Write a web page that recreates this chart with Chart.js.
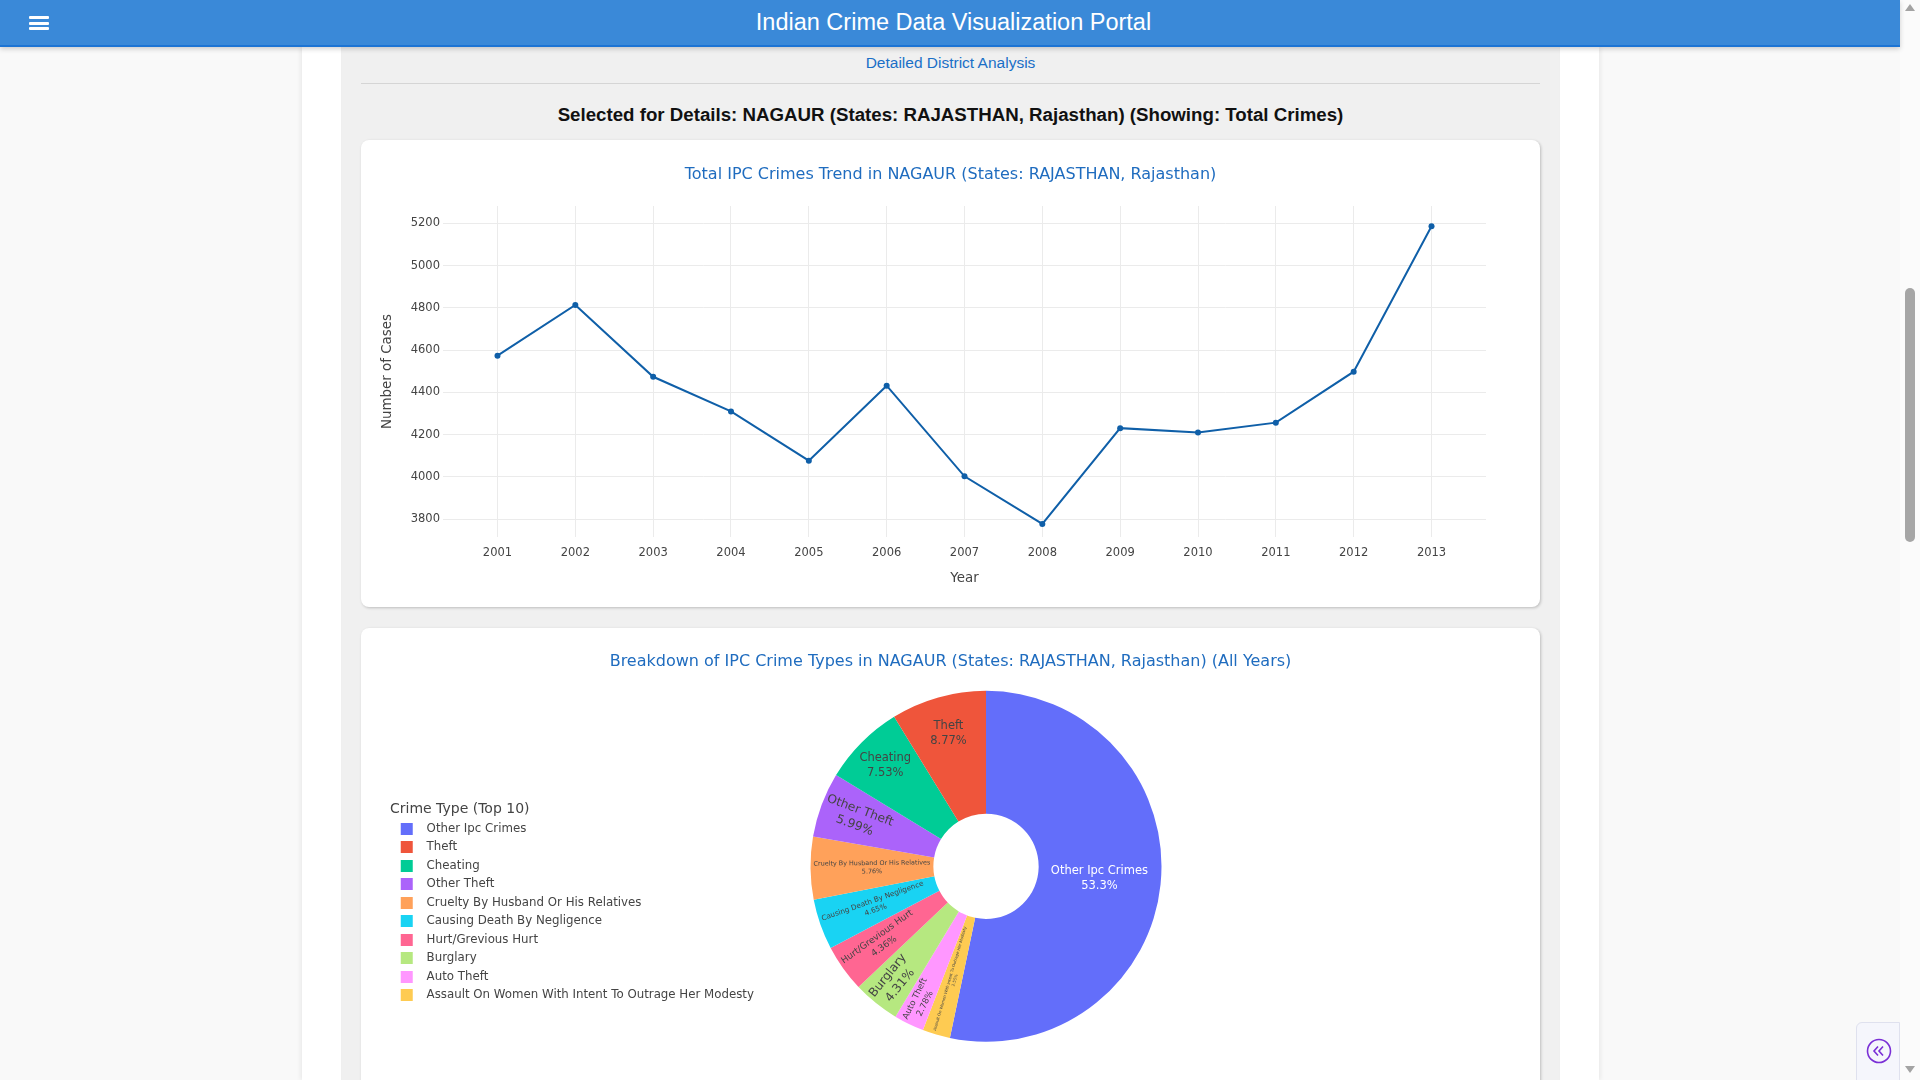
<!DOCTYPE html>
<html lang="en">
<head>
<meta charset="utf-8">
<title>Indian Crime Data Visualization Portal</title>
<script src="https://cdn.jsdelivr.net/npm/chart.js@4.4.1/dist/chart.umd.min.js"></script>
<style>
  html, body { margin: 0; padding: 0; }
  body {
    width: 1920px; height: 1080px; overflow: hidden; position: relative;
    background: #f9f9f9; font-family: 'Liberation Sans', Arial, sans-serif;
  }
  .topbar {
    position: absolute; left: 0; top: 0; width: 1900px; height: 45px;
    background: #3a89d8; border-bottom: 2px solid #1c74d4;
    box-shadow: 0 2px 5px rgba(0,0,0,.18); z-index: 5;
  }
  .topbar h1 {
    margin: 0; font-weight: normal; font-size: 23.5px; line-height: 45px;
    color: #fff; text-align: center; padding-left: 7px;
  }
  .burger { position: absolute; left: 29px; top: 16px; width: 20px; }
  .burger span { display: block; height: 3px; background: #fff; border-radius: 1px; margin-bottom: 2.5px; }
  .gutter { position: absolute; top: 47px; height: 1033px; width: 39px; background: #fff; }
  .gutter.l { left: 302px; box-shadow: -2px 0 4px rgba(0,0,0,.06); }
  .gutter.r { left: 1560px; box-shadow: 2px 0 4px rgba(0,0,0,.06); }
  .main { position: absolute; left: 341px; top: 47px; width: 1219px; height: 1033px; background: #f0f0f0; }
  .sublink {
    position: absolute; left: 341px; width: 1219px; top: 52px; line-height: 21px;
    text-align: center; font-size: 15.5px; color: #1a6fc7;
  }
  .rule { position: absolute; left: 361px; top: 83px; width: 1179px; height: 1px; background: #d5d5d5; }
  .selected {
    position: absolute; left: 341px; width: 1219px; top: 103px; line-height: 24px;
    text-align: center; font-size: 18.7px; font-weight: bold; color: #111;
  }
  .card {
    position: absolute; left: 361px; width: 1179px; background: #fff;
    border-radius: 8px; box-shadow: 1px 1px 3px rgba(0,0,0,.22);
  }
  .card canvas { position: absolute; left: 0; top: 0; }
  .sb { position: absolute; left: 1900px; top: 0; width: 20px; height: 1080px; background: #fbfbfb; }
  .sb .thumb { position: absolute; left: 5px; top: 288px; width: 10px; height: 254px; background: #a6a6a6; border-radius: 5px; }
  .sb .up, .sb .down { position: absolute; left: 5px; width: 0; height: 0; border-left: 5px solid transparent; border-right: 5px solid transparent; }
  .sb .up { top: 4px; border-bottom: 7px solid #a3a3a3; }
  .sb .down { top: 1066px; border-top: 7px solid #a3a3a3; }
  .collapse {
    position: absolute; left: 1856px; top: 1022px; width: 44px; height: 70px;
    background: #f5f6fc; border: 1px solid #dfe1ee; border-radius: 6px 0 0 0; box-sizing: border-box;
  }
  .collapse svg { position: absolute; left: 9px; top: 15px; }
</style>
</head>
<body>
<div class="main"></div>
<div class="gutter l"></div>
<div class="gutter r"></div>

<div class="topbar">
  <div class="burger"><span></span><span></span><span></span></div>
  <h1>Indian Crime Data Visualization Portal</h1>
</div>

<div class="sublink">Detailed District Analysis</div>
<div class="rule"></div>
<div class="selected">Selected for Details: NAGAUR (States: RAJASTHAN, Rajasthan) (Showing: Total Crimes)</div>

<div class="card" style="top:140px;height:467px;">
  <canvas id="trendChart" width="1179" height="467"></canvas>
</div>
<div class="card" style="top:628px;height:480px;">
  <canvas id="breakdownChart" width="1179" height="470"></canvas>
</div>

<div class="sb"><div class="up"></div><div class="thumb"></div><div class="down"></div></div>
<div class="collapse">
  <svg width="26" height="26" viewBox="0 0 26 26">
    <circle cx="13" cy="13" r="11.5" fill="none" stroke="#7a2fd6" stroke-width="1.6"/>
    <path d="M12 8.5 L8 13 L12 17.5 M17 8.5 L13 13 L17 17.5" fill="none" stroke="#7a2fd6" stroke-width="1.6"/>
  </svg>
</div>

<script>
// ---- data ----
const years = [2001, 2002, 2003, 2004, 2005, 2006, 2007, 2008, 2009, 2010, 2011, 2012, 2013];
const totalCrimes = [4574, 4814, 4474, 4310, 4077, 4432, 4003, 3778, 4231, 4210, 4257, 4498, 5186];
const yTickValues = [3800, 4000, 4200, 4400, 4600, 4800, 5000, 5200];

const crimeTypes = [
    'Other Ipc Crimes', 'Theft', 'Cheating', 'Other Theft',
    'Cruelty By Husband Or His Relatives', 'Causing Death By Negligence',
    'Hurt/Grevious Hurt', 'Burglary', 'Auto Theft',
    'Assault On Women With Intent To Outrage Her Modesty',
];
const crimeShares = [53.3, 8.77, 7.53, 5.99, 5.76, 4.65, 4.36, 4.31, 2.78, 2.55];

// ---- styling ----
const sliceColors = ['#636efa', '#EF553B', '#00cc96', '#ab63fa', '#FFA15A',
                     '#19d3f3', '#FF6692', '#B6E880', '#FF97FF', '#FECB52'];
const LINE_BLUE = '#0f5fa8';
const TITLE_BLUE = '#1f6cbf';
const TEXT = '#444';
const GRID = '#ebebeb';
const FONT = "'DejaVu Sans', Verdana, sans-serif";

Chart.defaults.font.family = FONT;
Chart.defaults.color = TEXT;

// slices go round the other way from Chart.js, so the big slice first, the rest reversed
const drawOrder = [0, 9, 8, 7, 6, 5, 4, 3, 2, 1];

// an empty box on the right side: shrinks the plot area but leaves the title centred
const rightSpacer = (width) => ({
    display: true, text: '', position: 'right', fullSize: false,
    font: { size: 12, lineHeight: 1.2 }, padding: { top: width - 14.4, bottom: 0 },
});

/* ---------- trend line ---------- */
new Chart(document.getElementById('trendChart'), {
    type: 'line',
    data: {
        datasets: [{
            label: 'Total IPC Crimes',
            data: years.map((yr, i) => ({ x: yr, y: totalCrimes[i] })),
            borderColor: LINE_BLUE,
            backgroundColor: LINE_BLUE,
            borderWidth: 2,
            pointRadius: 3,
            pointBorderWidth: 0,
            tension: 0,
            fill: false,
        }],
    },
    options: {
        responsive: false,
        animation: false,
        events: [],
        layout: { padding: 0 },
        plugins: {
            legend: { display: false },
            tooltip: { enabled: false },
            title: {
                display: true,
                text: 'Total IPC Crimes Trend in NAGAUR (States: RAJASTHAN, Rajasthan)',
                color: TITLE_BLUE,
                font: { size: 16, weight: 'normal' },
                padding: { top: 25, bottom: 21.8 },
            },
            subtitle: rightSpacer(54),
        },
        scales: {
            x: {
                type: 'linear',
                min: 2000.3,
                max: 2013.7,
                afterBuildTicks: (s) => { s.ticks = years.map(v => ({ value: v })); },
                afterFit: (s) => { s.height = 70; },
                ticks: { autoSkip: false, maxRotation: 0, padding: 9, font: { size: 11.5 }, callback: (v) => String(v) },
                grid: { color: GRID, drawTicks: false },
                border: { display: false },
                title: { display: true, text: 'Year', font: { size: 13.4 }, padding: { top: 0, bottom: 20.3 } },
            },
            y: {
                min: 3716,
                max: 5282,
                afterBuildTicks: (s) => { s.ticks = yTickValues.map(v => ({ value: v })); },
                afterFit: (s) => { s.width = 82; },
                ticks: { padding: 3, font: { size: 11.5 }, callback: (v) => String(v) },
                grid: { color: GRID, drawTicks: false },
                border: { display: false },
                title: { display: true, text: 'Number of Cases', font: { size: 13.4 }, padding: { top: 18, bottom: 0 } },
            },
        },
    },
});

/* ---------- breakdown doughnut ---------- */
function brightness(hex) {
    const n = parseInt(hex.slice(1), 16);
    return ((n >> 16) * 299 + ((n >> 8) & 255) * 587 + (n & 255) * 114) / 1000;
}

// legend swatch: 12px square with room on both sides, like the reference legend
function swatch(color) {
    const c = document.createElement('canvas');
    c.width = 24; c.height = 12;
    const g = c.getContext('2d');
    g.fillStyle = color;
    g.fillRect(4, 0, 12, 12);
    return c;
}

// labels inside the slices: horizontal when they fit, otherwise radial and shrunk
const sliceLabels = {
    id: 'sliceLabels',
    afterDatasetsDraw(chart) {
        const ctx = chart.ctx;
        const ds = chart.data.datasets[0];
        const total = ds.data.reduce((a, b) => a + b, 0);
        chart.getDatasetMeta(0).data.forEach((arc, i) => {
            const p = arc.getProps(['x', 'y', 'startAngle', 'endAngle', 'innerRadius', 'outerRadius'], true);
            const half = (p.endAngle - p.startAngle) / 2;
            const mid = p.startAngle + half;
            const R = p.outerRadius;
            const ring = (R - p.innerRadius) / R;
            const lines = [chart.data.labels[i], (ds.data[i] / total * 100).toPrecision(3) + '%'];

            ctx.save();
            ctx.font = `100px ${FONT}`;
            const a = Math.max(...lines.map(t => ctx.measureText(t).width)) / 100;
            const b = 2.6;

            let size = 11.5, rc, rot = 0;
            const rIns = Math.min(1 / (1 + 1 / Math.sin(Math.min(half, Math.PI / 2))), ring / 2);
            if (rIns * R * 2 / Math.hypot(a * size, b * size) >= 1) {
                rc = (1 - rIns) * R;
            } else {
                const s = Math.sin(half);
                const c1 = (R - p.innerRadius - 6) / a;
                const c2 = 2 * s * (R - 3) / (b + 2 * s * a);
                size = Math.min(12.2, c1, c2);
                rc = R - 3 - a * size / 2;
                rot = mid;
                while (rot > Math.PI / 2) rot -= Math.PI;
                while (rot < -Math.PI / 2) rot += Math.PI;
            }

            ctx.translate(p.x + rc * Math.cos(mid), p.y + rc * Math.sin(mid));
            ctx.rotate(rot);
            ctx.font = `${size}px ${FONT}`;
            ctx.fillStyle = brightness(ds.backgroundColor[i]) < 128 ? '#ffffff' : TEXT;
            ctx.textAlign = 'center';
            ctx.textBaseline = 'middle';
            ctx.fillText(lines[0], 0, -0.65 * size);
            ctx.fillText(lines[1], 0, 0.65 * size);
            ctx.restore();
        });
    },
};

const pieChart = new Chart(document.getElementById('breakdownChart'), {
    type: 'doughnut',
    data: {
        labels: drawOrder.map(i => crimeTypes[i]),
        datasets: [{
            data: drawOrder.map(i => crimeShares[i]),
            backgroundColor: drawOrder.map(i => sliceColors[i]),
            borderWidth: 0,
            hoverOffset: 0,
        }],
    },
    options: {
        responsive: false,
        animation: false,
        events: [],
        cutout: '30%',
        layout: { padding: { left: 29, right: 29, top: 0, bottom: 56.2 } },
        plugins: {
            tooltip: { enabled: false },
            title: {
                display: true,
                text: 'Breakdown of IPC Crime Types in NAGAUR (States: RAJASTHAN, Rajasthan) (All Years)',
                color: TITLE_BLUE,
                font: { size: 16, weight: 'normal' },
                padding: { top: 24.4, bottom: 19.2 },
            },
            subtitle: rightSpacer(280),
            legend: {
                position: 'left',
                align: 'start',
                maxWidth: 440,
                title: {
                    display: true,
                    text: 'Crime Type (Top 10)',
                    position: 'start',
                    color: TEXT,
                    font: { size: 14 },
                    padding: { top: 174.8, bottom: -3.4 },
                },
                labels: {
                    usePointStyle: true,
                    pointStyleWidth: 24,
                    padding: 6.7,
                    color: TEXT,
                    font: { size: 11.8 },
                    generateLabels(chart) {
                        const items = Chart.overrides.doughnut.plugins.legend.labels.generateLabels(chart);
                        items.forEach(it => { it.pointStyle = swatch(it.fillStyle); });
                        return items;
                    },
                    sort: (x, y) => drawOrder[x.index] - drawOrder[y.index],
                },
            },
        },
    },
    plugins: [sliceLabels],
});

// centre the pie where the reference has it
const pieCenterX = 625;
const areaRight = 2 * pieCenterX - pieChart.legend.right;
pieChart.options.plugins.subtitle = rightSpacer((pieChart.width - 29) - areaRight);
pieChart.update();
</script>
</body>
</html>
